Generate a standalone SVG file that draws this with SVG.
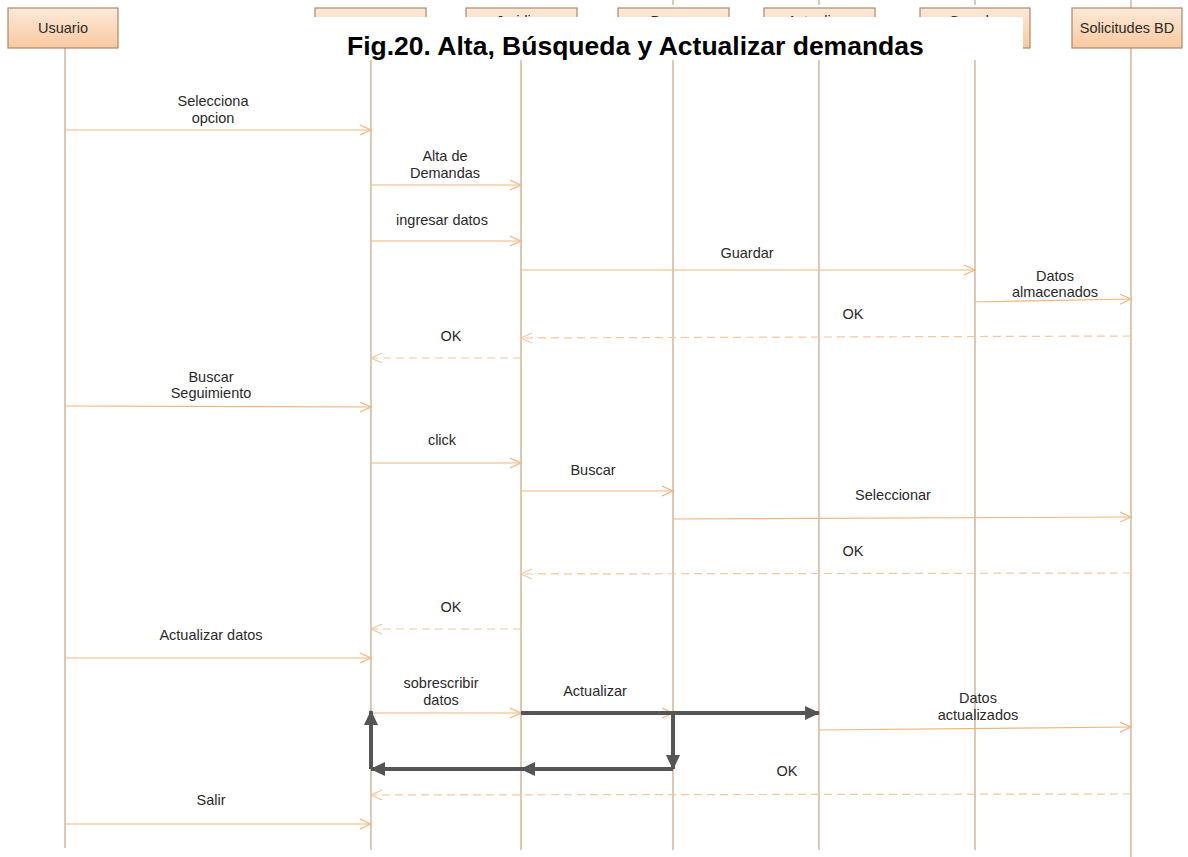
<svg xmlns="http://www.w3.org/2000/svg" width="1188" height="857" viewBox="0 0 1188 857">
<defs>
<linearGradient id="boxg" x1="0" y1="0" x2="0" y2="1">
<stop offset="0" stop-color="#fde9d8"/>
<stop offset="1" stop-color="#f9c9a0"/>
</linearGradient>
<marker id="open" markerUnits="userSpaceOnUse" markerWidth="14" markerHeight="14" refX="12" refY="6" orient="auto">
<path d="M1,1 L12,6 L1,11" fill="none" stroke="#f0b47a" stroke-width="1.2"/>
</marker>
<marker id="opend" markerUnits="userSpaceOnUse" markerWidth="14" markerHeight="14" refX="12" refY="6" orient="auto">
<path d="M1,1 L12,6 L1,11" fill="none" stroke="#f5c79c" stroke-width="1.2"/>
</marker>
<marker id="solid" markerUnits="userSpaceOnUse" markerWidth="20" markerHeight="20" refX="14" refY="8" orient="auto">
<path d="M0,1 L15,8 L0,15 Z" fill="#555"/>
</marker>
</defs>
<style>
.box{fill:url(#boxg);stroke:#a98a6c;stroke-width:1.2}
.life{stroke:#c49c78;stroke-width:1.1;fill:none}
.lbl{font-family:"Liberation Sans",Arial,sans-serif;font-size:14.5px;fill:#2a2a2a;text-anchor:middle}
.msg{stroke:#f0b47a;stroke-width:1.2;fill:none;marker-end:url(#open)}
.ret{stroke:#f5c79c;stroke-width:1.2;fill:none;stroke-dasharray:8,5;marker-end:url(#opend)}
.thick{stroke:#555;stroke-width:4;fill:none;marker-end:url(#solid)}
.title{font-family:"Liberation Sans",Arial,sans-serif;font-weight:bold;font-size:26.5px;fill:#000}
</style>
<rect width="1188" height="857" fill="#fff"/>
<g id="lifelines">
<line class="life" x1="65" y1="48" x2="65" y2="848"/>
<line class="life" x1="371" y1="45" x2="371" y2="850"/>
<line class="life" x1="521" y1="45" x2="521" y2="850"/>
<line class="life" x1="673" y1="0" x2="673" y2="5"/>
<line class="life" x1="673" y1="45" x2="673" y2="850"/>
<line class="life" x1="819" y1="0" x2="819" y2="5"/>
<line class="life" x1="819" y1="45" x2="819" y2="850"/>
<line class="life" x1="975" y1="0" x2="975" y2="5"/>
<line class="life" x1="975" y1="48" x2="975" y2="850"/>
<line class="life" x1="1131" y1="0" x2="1131" y2="8"/>
<line class="life" x1="1131" y1="48" x2="1131" y2="857"/>
</g>
<g id="node-usuario"><rect class="box" x="8" y="8" width="110" height="40"/><text class="lbl" x="63" y="33">Usuario</text></g>
<g id="node-1"><rect class="box" x="315" y="8" width="111" height="40"/></g>
<g id="node-juridico"><rect class="box" x="466" y="8" width="111" height="40"/><text class="lbl" x="521" y="26">Juridico</text></g>
<g id="node-buscar"><rect class="box" x="618" y="8" width="111" height="40"/><text class="lbl" x="673" y="26">Buscar</text></g>
<g id="node-actualizar"><rect class="box" x="764" y="8" width="111" height="40"/><text class="lbl" x="819" y="26">Actualizar</text></g>
<g id="node-guardar"><rect class="box" x="920" y="8" width="110" height="40"/><text class="lbl" x="975" y="26">Guardar</text></g>
<g id="node-solicitudes"><rect class="box" x="1072" y="8" width="110" height="40"/><text class="lbl" x="1127" y="33">Solicitudes BD</text></g>
<g id="title">
<rect x="305" y="17" width="718" height="43" fill="#fff"/>
<text class="title" x="347" y="55">Fig.20. Alta, Búsqueda y Actualizar demandas</text>
</g>
<g id="connectors">
<line class="msg" x1="65" y1="130" x2="371" y2="130"/>
<line class="msg" x1="371" y1="185" x2="521" y2="185"/>
<line class="msg" x1="371" y1="241" x2="521" y2="241"/>
<line class="msg" x1="521" y1="270" x2="975" y2="270"/>
<line class="msg" x1="975" y1="302" x2="1131" y2="299"/>
<line class="ret" x1="1131" y1="336" x2="521" y2="338"/>
<line class="ret" x1="521" y1="358" x2="371" y2="358"/>
<line class="msg" x1="65" y1="406" x2="371" y2="407"/>
<line class="msg" x1="371" y1="463" x2="521" y2="463"/>
<line class="msg" x1="521" y1="491" x2="673" y2="491"/>
<line class="msg" x1="673" y1="519" x2="1131" y2="517"/>
<line class="ret" x1="1131" y1="573" x2="521" y2="574"/>
<line class="ret" x1="521" y1="629" x2="371" y2="629"/>
<line class="msg" x1="65" y1="658" x2="371" y2="658"/>
<line class="msg" x1="371" y1="713" x2="521" y2="713"/>
<line class="msg" x1="521" y1="713" x2="673" y2="713"/>
<line class="msg" x1="819" y1="730" x2="1131" y2="727"/>
<line class="ret" x1="1131" y1="794" x2="371" y2="795"/>
<line class="msg" x1="65" y1="824" x2="371" y2="824"/>
<line class="thick" x1="521" y1="713" x2="819" y2="713"/>
<line class="thick" x1="673" y1="713" x2="673" y2="769"/>
<line class="thick" x1="673" y1="769" x2="521" y2="769"/>
<line class="thick" x1="521" y1="769" x2="371" y2="769"/>
<line class="thick" x1="371" y1="769" x2="371" y2="711"/>
</g>
<g id="labels">
<text class="lbl" x="213" y="106">Selecciona</text>
<text class="lbl" x="213" y="123">opcion</text>
<text class="lbl" x="445" y="161">Alta de</text>
<text class="lbl" x="445" y="178">Demandas</text>
<text class="lbl" x="442" y="225">ingresar datos</text>
<text class="lbl" x="747" y="258">Guardar</text>
<text class="lbl" x="1055" y="281">Datos</text>
<text class="lbl" x="1055" y="297">almacenados</text>
<text class="lbl" x="853" y="319">OK</text>
<text class="lbl" x="451" y="341">OK</text>
<text class="lbl" x="211" y="382">Buscar</text>
<text class="lbl" x="211" y="398">Seguimiento</text>
<text class="lbl" x="442" y="445">click</text>
<text class="lbl" x="593" y="475">Buscar</text>
<text class="lbl" x="893" y="500">Seleccionar</text>
<text class="lbl" x="853" y="556">OK</text>
<text class="lbl" x="451" y="612">OK</text>
<text class="lbl" x="211" y="640">Actualizar datos</text>
<text class="lbl" x="441" y="688">sobrescribir</text>
<text class="lbl" x="441" y="705">datos</text>
<text class="lbl" x="595" y="696">Actualizar</text>
<text class="lbl" x="978" y="703">Datos</text>
<text class="lbl" x="978" y="720">actualizados</text>
<text class="lbl" x="787" y="776">OK</text>
<text class="lbl" x="211" y="805">Salir</text>
</g>
</svg>
